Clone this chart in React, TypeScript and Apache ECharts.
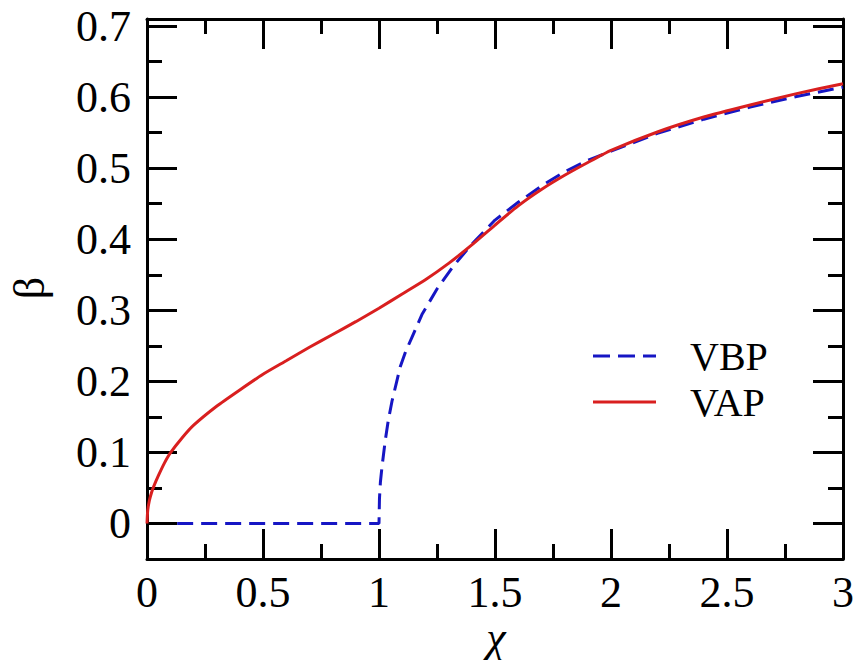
import React, { useEffect, useRef } from "react";
import * as echarts from "echarts";

// VAP (solid red)
const vapX = [0, 0.003, 0.01, 0.02, 0.03, 0.05, 0.075, 0.1, 0.15, 0.2, 0.3, 0.4, 0.5, 0.6, 0.7, 0.8, 0.9, 1.0, 1.1, 1.2, 1.3, 1.4, 1.5, 1.6, 1.7, 1.8, 1.9, 2.0, 2.2, 2.4, 2.6, 2.8, 3.0];
const vapY = [0, 0.018, 0.032, 0.044, 0.053, 0.068, 0.085, 0.099, 0.12, 0.138, 0.165, 0.188, 0.21, 0.229, 0.248, 0.266, 0.284, 0.303, 0.323, 0.343, 0.366, 0.392, 0.42, 0.447, 0.47, 0.49, 0.508, 0.525, 0.551, 0.572, 0.589, 0.605, 0.619];

// VBP (dashed blue)
const vbpX = [0.13, 1.0, 1.002, 1.006, 1.013, 1.027, 1.04, 1.056, 1.075, 1.092, 1.115, 1.142, 1.185, 1.25, 1.32, 1.4, 1.5, 1.6, 1.7, 1.8, 1.9, 2.0, 2.2, 2.4, 2.6, 2.8, 3.0];
const vbpY = [0, 0, 0.035, 0.058, 0.08, 0.117, 0.145, 0.172, 0.198, 0.221, 0.242, 0.262, 0.294, 0.33, 0.362, 0.393, 0.427, 0.452, 0.475, 0.495, 0.511, 0.524, 0.549, 0.569, 0.586, 0.601, 0.614];

const yMajorTicks = [0, 0.1, 0.2, 0.3, 0.4, 0.5, 0.6, 0.7];
const yMinorTicks = [0.05, 0.15, 0.25, 0.35, 0.45, 0.55, 0.65];
const legendNames = ["VBP", "VAP"];

const FONT = "Liberation Serif";
const BLACK = "#000";
const BLUE = "#1616c4";
const RED = "#d91f1f";

export default function App() {
  const ref = useRef<HTMLDivElement>(null);
  useEffect(() => {
    if (!ref.current) return;
    const chart = echarts.init(ref.current, undefined, { renderer: "svg" });
    const lineStyle = { color: BLACK, width: 3 };
    const xBase = (pos: string, labels: boolean) => ({
      type: "value",
      min: 0,
      max: 3,
      interval: 0.5,
      position: pos,
      axisLine: { show: true, onZero: false, lineStyle },
      axisTick: { show: true, inside: true, length: 30, lineStyle },
      minorTick: { show: true, splitNumber: 2, length: 15, lineStyle },
      axisLabel: { show: labels, fontSize: 44, fontFamily: FONT, color: BLACK, margin: 11 },
      splitLine: { show: false },
      minorSplitLine: { show: false },
    });
    const yBase = (pos: string, labels: boolean, minor: boolean) => ({
      type: "value",
      min: -0.05,
      max: 0.71,
      position: pos,
      axisLine: { show: !minor, onZero: false, lineStyle },
      axisTick: {
        show: true,
        inside: true,
        length: minor ? 15 : 30,
        customValues: minor ? yMinorTicks : yMajorTicks,
        lineStyle,
      },
      axisLabel: {
        show: labels,
        customValues: yMajorTicks,
        fontSize: 44,
        fontFamily: FONT,
        color: BLACK,
        margin: 16,
      },
      splitLine: { show: false },
    });
    const legendX0 = 593;
    const legendX1 = 656;
    const legendTextX = 690;
    const legendY = [356, 402];
    chart.setOption({
      animation: false,
      backgroundColor: "#fff",
      grid: { left: 147, right: 14, top: 19, bottom: 101, containLabel: false },
      xAxis: [xBase("bottom", true), xBase("top", false)],
      yAxis: [
        yBase("left", true, false),
        yBase("right", false, false),
        yBase("left", false, true),
        yBase("right", false, true),
      ],
      graphic: [
        {
          type: "text",
          x: 29.5,
          y: 288,
          rotation: Math.PI / 2,
          style: { text: "β", fontSize: 44, fontFamily: FONT, fill: BLACK, align: "center", verticalAlign: "middle" },
        },
        {
          type: "text",
          x: 496,
          y: 637,
          style: { text: "χ", fontSize: 44, lineHeight: 36, fontFamily: FONT, fontStyle: "italic", fill: BLACK, align: "center", verticalAlign: "middle" },
        },
        {
          type: "line",
          shape: { x1: legendX0, y1: legendY[0], x2: legendX1, y2: legendY[0] },
          style: { stroke: BLUE, lineWidth: 3, lineDash: [17, 8] },
        },
        {
          type: "line",
          shape: { x1: legendX0, y1: legendY[1], x2: legendX1, y2: legendY[1] },
          style: { stroke: RED, lineWidth: 3 },
        },
        {
          type: "text",
          x: legendTextX,
          y: legendY[0],
          style: { text: legendNames[0], fontSize: 40, fontFamily: FONT, fill: BLACK, align: "left", verticalAlign: "middle" },
        },
        {
          type: "text",
          x: legendTextX,
          y: legendY[1],
          style: { text: legendNames[1], fontSize: 40, fontFamily: FONT, fill: BLACK, align: "left", verticalAlign: "middle" },
        },
      ],
      series: [
        {
          name: legendNames[0],
          type: "line",
          xAxisIndex: 0,
          yAxisIndex: 0,
          symbol: "none",
          data: vbpX.map((x, i) => [x, vbpY[i]]),
          lineStyle: { color: BLUE, width: 3, type: [16, 8] },
          itemStyle: { color: BLUE },
          z: 3,
        },
        {
          name: legendNames[1],
          type: "line",
          xAxisIndex: 0,
          yAxisIndex: 0,
          symbol: "none",
          smooth: 0.2,
          data: vapX.map((x, i) => [x, vapY[i]]),
          lineStyle: { color: RED, width: 3 },
          itemStyle: { color: RED },
          z: 4,
        },
      ],
    });
    return () => chart.dispose();
  }, []);
  return <div ref={ref} style={{ width: 857, height: 660, position: "absolute", left: 0, top: 0 }} />;
}
